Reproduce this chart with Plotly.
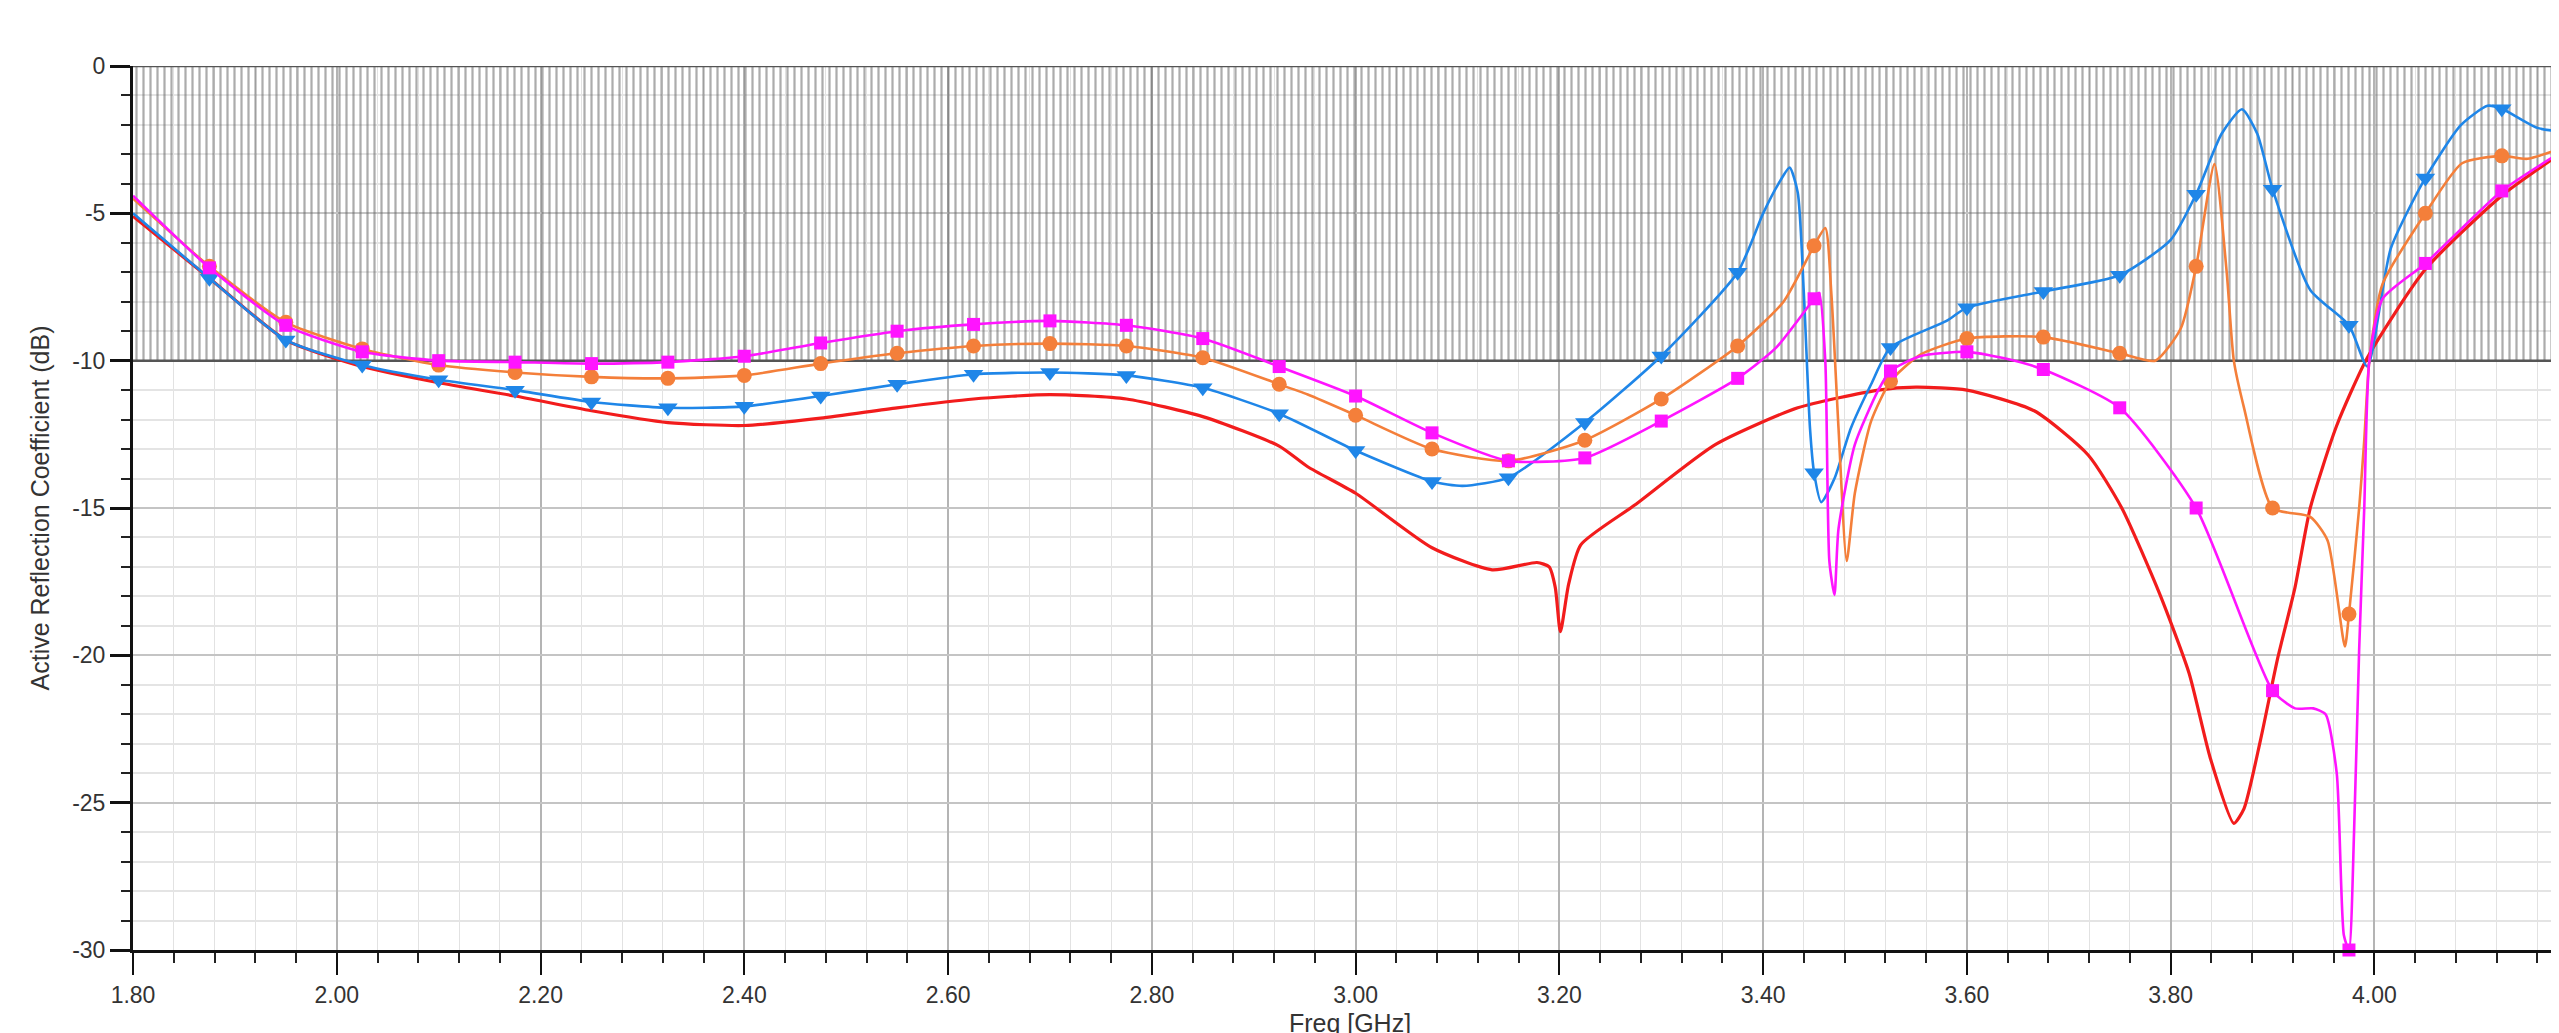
import plotly.graph_objects as go

# ---------------- data ----------------
MARKER_FREQ = [1.875, 1.95, 2.025, 2.10, 2.175, 2.25, 2.325, 2.40, 2.475, 2.55,
               2.625, 2.70, 2.775, 2.85, 2.925, 3.00, 3.075, 3.15, 3.225, 3.30,
               3.375, 3.45, 3.525, 3.60, 3.675, 3.75, 3.825, 3.90, 3.975, 4.05, 4.125]

RED_FREQ = [1.80, 1.875, 1.95, 2.025, 2.10, 2.175, 2.25, 2.325, 2.40, 2.475, 2.55,
            2.625, 2.70, 2.775, 2.85, 2.925, 2.953, 3.00, 3.075, 3.134, 3.178, 3.19,
            3.196, 3.201, 3.209, 3.221, 3.274, 3.353, 3.434, 3.513, 3.55, 3.60,
            3.666, 3.719, 3.752, 3.789, 3.818, 3.839, 3.862, 3.872, 3.888, 3.905,
            3.922, 3.937, 3.963, 3.993, 4.05, 4.125, 4.19]
RED_DB = [-5.1, -7.2, -9.3, -10.2, -10.75, -11.2, -11.7, -12.1, -12.2, -11.95, -11.6,
          -11.3, -11.15, -11.3, -11.9, -12.9, -13.6, -14.5, -16.35, -17.1, -16.85, -17.0,
          -17.7, -19.2, -17.6, -16.25, -14.9, -12.85, -11.6, -11.0, -10.9, -11.0,
          -11.7, -13.2, -15.0, -17.9, -20.6, -23.5, -25.7, -25.2, -22.9, -20.1,
          -17.7, -15.0, -12.2, -9.9, -6.9, -4.4, -2.8]

BLUE_FREQ = [1.80, 1.875, 1.95, 2.025, 2.10, 2.175, 2.25, 2.325, 2.40, 2.475, 2.55,
             2.625, 2.70, 2.775, 2.85, 2.925, 3.00, 3.075, 3.105, 3.15, 3.225, 3.30,
             3.375, 3.40, 3.415, 3.426, 3.434, 3.440, 3.446, 3.45, 3.457, 3.470, 3.486,
             3.506, 3.525, 3.58, 3.60, 3.675, 3.75, 3.80, 3.825, 3.85, 3.870, 3.885,
             3.90, 3.937, 3.975, 3.993, 4.016, 4.05, 4.085, 4.111, 4.125, 4.16, 4.19]
BLUE_DB = [-5.0, -7.2, -9.3, -10.15, -10.65, -11.0, -11.4, -11.6, -11.55, -11.2, -10.8,
           -10.46, -10.4, -10.5, -10.92, -11.8, -13.05, -14.1, -14.25, -13.97, -12.1, -9.84,
           -7.0, -5.0, -4.0, -3.45, -4.3, -7.75, -12.3, -13.8, -14.8, -14.0, -12.3,
           -10.8, -9.55, -8.65, -8.2, -7.65, -7.1, -5.9, -4.35, -2.3, -1.47, -2.3,
           -4.18, -7.6, -8.8, -10.2, -6.2, -3.8, -2.0, -1.35, -1.45, -2.1, -2.25]

ORANGE_FREQ = [1.80, 1.875, 1.95, 2.025, 2.10, 2.175, 2.25, 2.325, 2.40, 2.475, 2.55,
               2.625, 2.70, 2.775, 2.85, 2.925, 2.953, 3.00, 3.075, 3.15, 3.225, 3.30,
               3.375, 3.42, 3.45, 3.461, 3.467, 3.474, 3.482, 3.490, 3.506, 3.525,
               3.554, 3.60, 3.675, 3.75, 3.785, 3.81, 3.825, 3.843, 3.855, 3.862,
               3.872, 3.90, 3.937, 3.954, 3.971, 3.975, 3.985, 3.99, 3.995, 4.008,
               4.05, 4.086, 4.125, 4.15, 4.19]
ORANGE_DB = [-4.5, -6.8, -8.7, -9.6, -10.15, -10.4, -10.55, -10.6, -10.5, -10.1, -9.75,
             -9.5, -9.42, -9.5, -9.9, -10.8, -11.15, -11.85, -13.0, -13.4, -12.7, -11.3,
             -9.5, -8.0, -6.1, -5.5, -7.75, -12.3, -16.8, -14.5, -12.05, -10.7,
             -9.8, -9.25, -9.2, -9.75, -10.0, -8.9, -6.8, -3.33, -7.0, -10.0,
             -11.6, -15.0, -15.3, -16.1, -19.7, -18.6, -15.0, -12.7, -10.0, -7.4,
             -5.0, -3.3, -3.05, -3.15, -2.7]

MAGENTA_FREQ = [1.80, 1.875, 1.95, 2.025, 2.10, 2.175, 2.25, 2.325, 2.40, 2.475, 2.55,
                2.625, 2.70, 2.775, 2.85, 2.925, 3.00, 3.075, 3.15, 3.225, 3.30, 3.375,
                3.413, 3.45, 3.455, 3.461, 3.465, 3.470, 3.474, 3.490, 3.513, 3.525,
                3.554, 3.60, 3.641, 3.675, 3.75, 3.825, 3.90, 3.922, 3.94, 3.952,
                3.963, 3.970, 3.975, 3.980, 3.985, 3.990, 3.995, 4.008, 4.05, 4.125, 4.19]
MAGENTA_DB = [-4.4, -6.85, -8.8, -9.7, -10.0, -10.05, -10.1, -10.05, -9.85, -9.4, -9.0,
              -8.77, -8.65, -8.8, -9.25, -10.2, -11.2, -12.45, -13.4, -13.3, -12.05, -10.6,
              -9.55, -7.9, -7.7, -10.0, -16.8, -17.95, -15.7, -12.85, -11.0, -10.35,
              -9.85, -9.7, -9.95, -10.3, -11.6, -15.0, -21.2, -21.8, -21.8, -22.0,
              -24.0, -29.5, -30.0, -26.0, -19.8, -15.0, -10.0, -7.9, -6.7, -4.24, -2.77]

Y_TICK_VALS = [0, -5, -10, -15, -20, -25, -30]
Y_TICK_TEXT = ["0", "-5", "-10", "-15", "-20", "-25", "-30"]

SPEC_FREQ = [1.70, 4.30, 4.30, 1.70, 1.70]     # hatched specification band
SPEC_DB = [0, 0, -10, -10, 0]

X_RANGE = [1.80, 4.189]
Y_RANGE = [-30, 0]

# ---------------- figure ----------------
TICK_FONT = dict(family="Liberation Sans Narrow, Arial Narrow, Liberation Sans, Arial",
                 size=23, color="#333333")
TITLE_FONT = dict(family="Liberation Sans, Arial", size=25, color="#333333")

fig = go.Figure()

# hatched band 0 .. -10 dB
fig.add_trace(go.Scatter(
    x=SPEC_FREQ, y=SPEC_DB, mode="lines", fill="toself",
    line=dict(color="#555555", width=2.5),
    fillcolor="rgba(0,0,0,0)",
    fillpattern=dict(shape="|", size=7, solidity=0.32,
                     fgcolor="#5a5a5a", bgcolor="rgba(255,255,255,0)"),
    hoverinfo="skip", showlegend=False,
))

series = [
    ("red", RED_FREQ, RED_DB, "#f21c1c", None, 0, 3.2),
    ("blue", BLUE_FREQ, BLUE_DB, "#1f86e8", "triangle-down", 17, 2.6),
    ("orange", ORANGE_FREQ, ORANGE_DB, "#f47f3a", "circle", 15, 2.6),
    ("magenta", MAGENTA_FREQ, MAGENTA_DB, "#ff14ff", "square", 13, 2.6),
]

for name, fx, fy, col, sym, msize, lw in series:
    fig.add_trace(go.Scatter(
        x=fx, y=fy, mode="lines", name=name,
        line=dict(color=col, width=lw, shape="spline", smoothing=0.6),
        showlegend=False, hoverinfo="x+y",
    ))
    if sym is not None:
        mx = [f for f in fx if any(abs(f - m) < 1e-9 for m in MARKER_FREQ)]
        my = [v for f, v in zip(fx, fy) if any(abs(f - m) < 1e-9 for m in MARKER_FREQ)]
        fig.add_trace(go.Scatter(
            x=mx, y=my, mode="markers", name=name,
            marker=dict(symbol=sym, size=msize, color=col, line=dict(width=0)),
            showlegend=False, cliponaxis=False, hoverinfo="x+y",
        ))

fig.update_layout(
    width=2559, height=1033, autosize=False,
    margin=dict(l=125, r=0, t=58, b=91, pad=0),
    paper_bgcolor="white", plot_bgcolor="white",
    showlegend=False,
)

fig.update_xaxes(
    range=X_RANGE, tick0=1.8, dtick=0.2, tickformat=".2f",
    ticks="outside", ticklen=22, tickwidth=2, tickcolor="#111111",
    showline=True, linecolor="#111111", linewidth=3,
    showgrid=True, gridcolor="#b4b4b4", gridwidth=1.5,
    zeroline=False, tickfont=TICK_FONT,
    minor=dict(dtick=0.04, ticks="outside", ticklen=10, tickwidth=2,
               tickcolor="#222222", showgrid=True, gridcolor="#e2e2e2", gridwidth=1),
    title=dict(text="Freq [GHz]", font=TITLE_FONT, standoff=8),
)

fig.update_yaxes(
    range=Y_RANGE, tickvals=Y_TICK_VALS, ticktext=Y_TICK_TEXT,
    ticks="outside", ticklen=20, tickwidth=3, tickcolor="#111111",
    showline=True, linecolor="#111111", linewidth=3,
    showgrid=True, gridcolor="#c4c4c4", gridwidth=2,
    zeroline=False, tickfont=TICK_FONT,
    minor=dict(dtick=1, ticks="outside", ticklen=9, tickwidth=2,
               tickcolor="#222222", showgrid=True, gridcolor="#e4e4e4", gridwidth=2),
    title=dict(text="Active Reflection Coefficient (dB)", font=TITLE_FONT, standoff=16),
)

fig.write_html("out.html")
